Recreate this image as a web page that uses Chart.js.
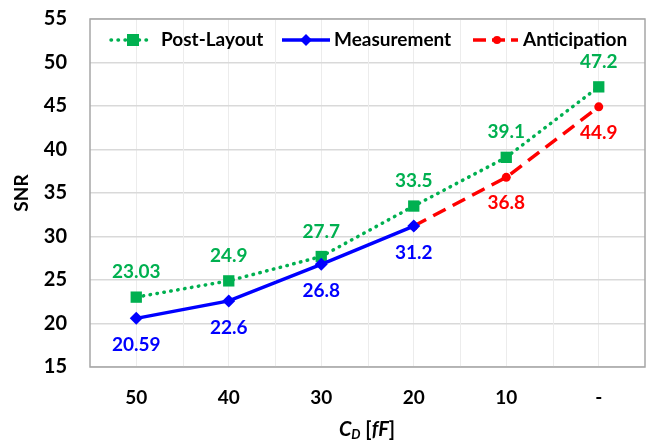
<!DOCTYPE html>
<html>
<head>
<meta charset="utf-8">
<script src="https://cdn.jsdelivr.net/npm/chart.js@4.4.0/dist/chart.umd.min.js"></script>
<style>
  html, body { margin: 0; padding: 0; background: #ffffff; overflow: hidden; }
  #wrap { width: 647px; height: 441px; overflow: hidden; }
</style>
</head>
<body>
<div id="wrap"><canvas id="snrChart" width="653" height="441"></canvas></div>
<script>
// Data
const categories = ['50', '40', '30', '20', '10', '-'];
const postLayout = [23.03, 24.9, 27.7, 33.5, 39.1, 47.2];
const measurement = [20.59, 22.6, 26.8, 31.2, null, null];
const anticipation = [null, null, null, 31.2, 36.8, 44.9];
const postLabels = ['23.03', '24.9', '27.7', '33.5', '39.1', '47.2'];
const measLabels = ['20.59', '22.6', '26.8', '31.2', '', ''];
const antLabels = ['', '', '', '', '36.8', '44.9'];
const yMin = 15, yMax = 55, yStep = 5;

const GREEN = '#00b050';
const BLUE = '#0000ff';
const RED = '#ff0000';
const FONT = 'Lato, "Open Sans", sans-serif';

// minor vertical grid lines at category boundaries + plot frame
const framePlugin = {
    id: 'frame',
    beforeDatasetsDraw(chart) {
        const { ctx, chartArea: a, scales } = chart;
        const x = scales.x;
        ctx.save();
        ctx.strokeStyle = '#ececec';
        ctx.lineWidth = 1;
        for (let i = 1; i < categories.length; i++) {
            const px = Math.round((x.getPixelForValue(i - 1) + x.getPixelForValue(i)) / 2) + 0.5;
            ctx.beginPath();
            ctx.moveTo(px, a.top);
            ctx.lineTo(px, a.bottom);
            ctx.stroke();
        }
        ctx.strokeStyle = '#a6a6a6';
        ctx.lineWidth = 1.5;
        ctx.strokeRect(a.left, a.top, a.right - a.left, a.bottom - a.top);
        ctx.restore();
    }
};

// value labels next to each point
const labelPlugin = {
    id: 'valueLabels',
    afterDatasetsDraw(chart) {
        const { ctx } = chart;
        const sets = [
            { idx: 0, labels: postLabels, color: GREEN, dy: -25 },
            { idx: 2, labels: measLabels, color: BLUE, dy: 27 },
            { idx: 1, labels: antLabels, color: RED, dy: 26 }
        ];
        ctx.save();
        ctx.font = 'bold 19px ' + FONT;
        ctx.textAlign = 'center';
        ctx.textBaseline = 'middle';
        sets.forEach(s => {
            const meta = chart.getDatasetMeta(s.idx);
            meta.data.forEach((pt, i) => {
                if (!s.labels[i]) return;
                ctx.fillStyle = s.color;
                ctx.fillText(s.labels[i], pt.x, pt.y + s.dy);
            });
        });
        ctx.restore();
    }
};

// legend inside the plot + x axis title with subscript
const legendPlugin = {
    id: 'innerLegend',
    afterDraw(chart) {
        const { ctx, chartArea: a } = chart;
        const y = a.top + 21;
        ctx.save();
        ctx.lineCap = 'round';

        // Post-Layout
        ctx.strokeStyle = GREEN;
        ctx.lineWidth = 3.5;
        ctx.setLineDash([0.5, 6.5]);
        ctx.beginPath(); ctx.moveTo(111, y); ctx.lineTo(153, y); ctx.stroke();
        ctx.setLineDash([]);
        ctx.fillStyle = GREEN;
        ctx.fillRect(127, y - 6, 12, 12);

        // Measurement
        ctx.lineCap = 'butt';
        ctx.strokeStyle = BLUE;
        ctx.lineWidth = 3.5;
        ctx.beginPath(); ctx.moveTo(282, y); ctx.lineTo(330, y); ctx.stroke();
        ctx.fillStyle = BLUE;
        ctx.beginPath();
        ctx.moveTo(306, y - 6); ctx.lineTo(312, y); ctx.lineTo(306, y + 6); ctx.lineTo(300, y);
        ctx.closePath(); ctx.fill();

        // Anticipation
        ctx.strokeStyle = RED;
        ctx.setLineDash([13, 6]);
        ctx.beginPath(); ctx.moveTo(473, y); ctx.lineTo(518, y); ctx.stroke();
        ctx.setLineDash([]);
        ctx.fillStyle = RED;
        ctx.beginPath(); ctx.arc(497, y, 4, 0, Math.PI * 2); ctx.fill();

        ctx.fillStyle = '#000000';
        ctx.font = 'bold 19px ' + FONT;
        ctx.textBaseline = 'middle';
        ctx.textAlign = 'left';
        ctx.fillText('Post-Layout', 161, y);
        ctx.fillText('Measurement', 334, y);
        ctx.fillText('Anticipation', 523, y);

        // x axis title: C_D [fF]
        const ty = 430;
        const parts = [
            { t: 'C', f: 'italic bold 20px ' + FONT, dy: 0 },
            { t: 'D', f: 'italic bold 13px ' + FONT, dy: 5 },
            { t: ' [', f: 'bold 20px ' + FONT, dy: 0 },
            { t: 'fF', f: 'italic bold 20px ' + FONT, dy: 0 },
            { t: ']', f: 'bold 20px ' + FONT, dy: 0 }
        ];
        let total = 0;
        parts.forEach(p => { ctx.font = p.f; p.w = ctx.measureText(p.t).width; total += p.w; });
        let tx = 367 - total / 2;
        parts.forEach(p => {
            ctx.font = p.f;
            ctx.fillText(p.t, tx, ty + p.dy);
            tx += p.w;
        });
        ctx.restore();
    }
};

const ctx = document.getElementById('snrChart').getContext('2d');
const snrChart = new Chart(ctx, {
    type: 'line',
    data: {
        labels: categories,
        datasets: [{
            label: 'Post-Layout',
            data: postLayout,
            borderColor: GREEN,
            backgroundColor: GREEN,
            borderWidth: 3.5,
            borderDash: [0.5, 6.5],
            borderCapStyle: 'round',
            pointStyle: 'rect',
            pointRadius: 8,
            pointBorderWidth: 0,
            pointHoverRadius: 8,
            tension: 0,
            order: 3
        }, {
            label: 'Anticipation',
            data: anticipation,
            borderColor: RED,
            backgroundColor: RED,
            borderWidth: 3.5,
            borderDash: [14, 8],
            pointStyle: 'circle',
            pointRadius: 4.5,
            pointBorderWidth: 0,
            pointHoverRadius: 4.5,
            tension: 0,
            order: 2
        }, {
            label: 'Measurement',
            data: measurement,
            borderColor: BLUE,
            backgroundColor: BLUE,
            borderWidth: 3.5,
            pointStyle: 'rectRot',
            pointRadius: 6.5,
            pointBorderWidth: 0,
            pointHoverRadius: 6.5,
            tension: 0,
            order: 1
        }]
    },
    options: {
        responsive: false,
        animation: false,
        spanGaps: false,
        layout: { padding: { top: 19, right: 0, left: 0, bottom: 0 } },
        plugins: {
            legend: { display: false },
            tooltip: { enabled: false }
        },
        scales: {
            x: {
                offset: true,
                grid: { color: '#ececec', drawTicks: false, offset: false },
                border: { display: false },
                ticks: {
                    color: '#000000',
                    font: { family: FONT, size: 19, weight: 'bold' },
                    padding: 19
                },
                afterFit(scale) {
                    scale.height = 74;
                    scale.paddingLeft = 0;
                    scale.paddingRight = 0;
                }
            },
            y: {
                min: yMin,
                max: yMax,
                grid: { color: '#d9d9d9', drawTicks: false, lineWidth: 1.5 },
                border: { display: false },
                ticks: {
                    stepSize: yStep,
                    color: '#000000',
                    font: { family: FONT, size: 20, weight: 'bold' },
                    padding: 23
                },
                title: {
                    display: true,
                    text: 'SNR',
                    color: '#000000',
                    font: { family: FONT, size: 19, weight: 'bold' },
                    padding: { top: 10, bottom: 0 }
                },
                afterFit(scale) {
                    scale.width = 90;
                    scale.paddingTop = 0;
                    scale.paddingBottom = 0;
                }
            }
        }
    },
    plugins: [framePlugin, labelPlugin, legendPlugin]
});
</script>
</body>
</html>
